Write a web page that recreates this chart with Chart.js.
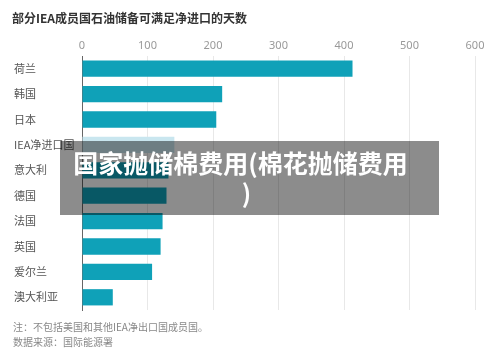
<!DOCTYPE html>
<html>
<head>
<meta charset="utf-8">
<script src="https://cdn.jsdelivr.net/npm/chart.js@4"></script>
<style>
  html, body { margin: 0; padding: 0; background: #fff; }
  body { width: 500px; height: 357px; position: relative; overflow: hidden;
         font-family: "Noto Sans CJK SC", "Noto Sans", sans-serif; }
  #chart { position: absolute; left: 0; top: 0; }
  .title { position: absolute; left: 12px; top: 9px; font-size: 12px; font-weight: bold; color: #333; }
  .note { position: absolute; left: 13px; font-size: 10px; color: #888; }
  .mask { position: absolute; left: 60px; top: 141px; width: 379px; height: 74px;
          background: rgba(0,0,0,0.45); color: #fff; font-weight: bold; font-size: 25px;
          line-height: 30px; text-align: center; padding: 6px 18px 0 0; box-sizing: border-box; }
  .mask span { display: block; padding-left: 12px; }
</style>
</head>
<body>
<canvas id="chart" width="500" height="357"></canvas>
<div class="title">部分IEA成员国石油储备可满足净进口的天数</div>
<div class="note" style="top:319px">注：不包括美国和其他IEA净出口国成员国。</div>
<div class="note" style="top:334px">数据来源：国际能源署</div>
<div class="mask">国家抛储棉费用(棉花抛储费用<span>)</span></div>
<script>
// days of net imports covered by oil stocks
const countries = ["荷兰", "韩国", "日本", "IEA净进口国", "意大利", "德国", "法国", "英国", "爱尔兰", "澳大利亚"];
const days = [413, 214, 205, 141, 132, 129, 123, 120, 107, 47];
const xTicks = [0, 100, 200, 300, 400, 500, 600];

const TEAL = "#0fa1b8";
const LIGHT = "#c9e6ef";

new Chart(document.getElementById("chart"), {
  type: "bar",
  data: {
    labels: countries,
    datasets: [{
      data: days,
      backgroundColor: countries.map((c) => (c === "IEA净进口国" ? LIGHT : TEAL)),
      borderWidth: 0,
      categoryPercentage: 0.64,
      barPercentage: 1,
    }],
  },
  options: {
    indexAxis: "y",
    responsive: false,
    animation: false,
    layout: { padding: { left: 14, right: 25, top: 36, bottom: 47 } },
    plugins: { legend: { display: false }, tooltip: { enabled: false } },
    scales: {
      x: {
        position: "top",
        min: xTicks[0],
        max: xTicks[xTicks.length - 1],
        afterBuildTicks: (s) => { s.ticks = xTicks.map((v) => ({ value: v })); },
        afterFit: (s) => { s.height = 20; },
        grid: { color: "#e8e8e8", drawTicks: false },
        border: { display: false },
        ticks: { color: "#999", font: { size: 11, family: "Noto Sans" }, padding: 4 },
      },
      y: {
        afterFit: (s) => { s.width = 68; },
        grid: { display: false },
        border: { color: "#666", width: 1 },
        ticks: {
          crossAlign: "far",
          color: "#555",
          font: { size: 11, family: "Noto Sans CJK SC" },
        },
      },
    },
  },
});
</script>
</body>
</html>
